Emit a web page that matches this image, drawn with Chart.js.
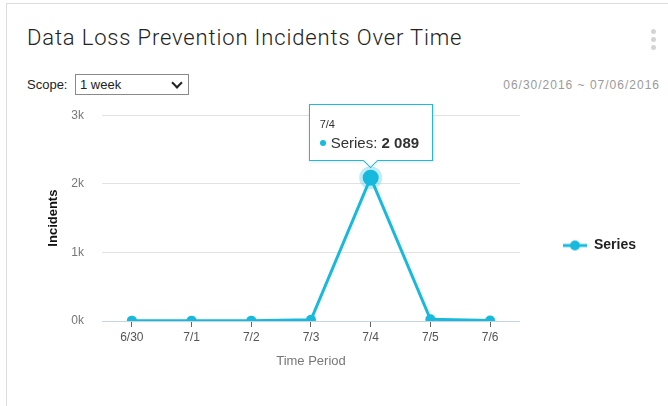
<!DOCTYPE html>
<html>
<head>
<meta charset="utf-8">
<script src="https://cdn.jsdelivr.net/npm/chart.js@4.4.0/dist/chart.umd.min.js"></script>
<style>
    html, body { margin: 0; padding: 0; background: #fff; }
    body { width: 668px; height: 406px; position: relative; overflow: hidden; font-family: "Liberation Sans", Arial, sans-serif; }
    #card { position: absolute; left: 6px; top: 3px; width: 680px; height: 420px; border: 1px solid #dcdcdc; box-sizing: border-box; }
    #title { position: absolute; left: 27px; top: 25px; font-family: Roboto, sans-serif; font-weight: 300; font-size: 22px; letter-spacing: 0.85px; color: #222; white-space: nowrap; }
    .dot { position: absolute; left: 651px; width: 5px; height: 5px; border-radius: 50%; background: #d4d4d4; }
    #scope { position: absolute; left: 27px; top: 77px; font-size: 13px; color: #222; }
    #select { position: absolute; left: 75px; top: 74px; width: 114px; height: 21px; border: 1px solid #8a8a8a; box-sizing: border-box; font-size: 13px; color: #222; line-height: 19px; padding-left: 4px; }
    #chev { position: absolute; right: 7px; top: 4px; width: 6px; height: 6px; border-right: 2px solid #222; border-bottom: 2px solid #222; transform: rotate(45deg); }
    #range { position: absolute; right: 8px; top: 78px; font-size: 12px; letter-spacing: 1px; color: #9a9a9a; }
    #wrap { position: absolute; left: 20px; top: 90px; width: 648px; height: 296px; }
    #tip { position: absolute; background: #fff; border: 1px solid #1fb8de; box-shadow: 0 1px 3px rgba(0,0,0,0.10); padding: 13px 13px 9px 10px; white-space: nowrap; pointer-events: none; }
    #tip .t { font-size: 11px; color: #333; margin-bottom: 4px; }
    #tip .b { font-size: 15px; color: #333; }
    #tip .b i { display: inline-block; width: 6px; height: 6px; border-radius: 50%; background: #17b9dd; vertical-align: middle; margin-right: 5px; position: relative; top: -1px; }
    #tip .b b { font-weight: bold; }
    #tip:after { content: ""; position: absolute; left: 50%; bottom: -6px; margin-left: -6px; width: 10px; height: 10px; background: #fff; border-right: 1px solid #1fb8de; border-bottom: 1px solid #1fb8de; transform: rotate(45deg); }
</style>
</head>
<body>
<div id="card"></div>
<div id="title">Data Loss Prevention Incidents Over Time</div>
<div class="dot" style="top:29px"></div>
<div class="dot" style="top:37px"></div>
<div class="dot" style="top:45px"></div>
<div id="scope">Scope:</div>
<div id="select">1 week<span id="chev"></span></div>
<div id="range">06/30/2016 ~ 07/06/2016</div>
<div id="wrap"><canvas id="chart"></canvas></div>
<div id="tip" style="display:none"></div>

<script>
// Data
const days = ['6/30', '7/1', '7/2', '7/3', '7/4', '7/5', '7/6'];
const incidents = [5, 5, 5, 18, 2089, 25, 6];
const yTicks = [0, 1000, 2000, 3000];
const seriesName = 'Series';
const activeIdx = 4;

const cyan = '#17b9dd';

// legend symbol: line with dot
function legendSymbol() {
    let c = document.createElement('canvas');
    c.width = 24;
    c.height = 12;
    let g = c.getContext('2d');
    g.strokeStyle = cyan;
    g.lineWidth = 3;
    g.beginPath();
    g.moveTo(0, 6);
    g.lineTo(24, 6);
    g.stroke();
    g.fillStyle = cyan;
    g.beginPath();
    g.arc(12, 6, 5, 0, Math.PI * 2);
    g.fill();
    return c;
}

function fmt(v) {
    return String(v).replace(/\B(?=(\d{3})+(?!\d))/g, ' ');
}

function externalTip(context) {
    let tip = document.getElementById('tip');
    let model = context.tooltip;
    if (model.opacity === 0 || !model.dataPoints || !model.dataPoints.length) {
        tip.style.display = 'none';
        return;
    }
    let p = model.dataPoints[0];
    tip.innerHTML = `<div class="t">${p.label}</div><div class="b"><i></i>${p.dataset.label}: <b>${fmt(p.raw)}</b></div>`;
    tip.style.display = 'block';
    let wrap = document.getElementById('wrap');
    let x = wrap.offsetLeft + model.caretX;
    let y = wrap.offsetTop + model.caretY;
    tip.style.left = (x - tip.offsetWidth / 2) + 'px';
    tip.style.top = (y - 17 - tip.offsetHeight) + 'px';
}

Chart.defaults.font.family = '"Liberation Sans", Arial, sans-serif';

let chart = new Chart(document.getElementById('chart').getContext('2d'), {
    type: 'line',
    data: {
        labels: days,
        datasets: [{
            label: seriesName,
            data: incidents,
            borderColor: cyan,
            backgroundColor: cyan,
            borderWidth: 3,
            pointRadius: 5,
            pointBackgroundColor: cyan,
            pointBorderWidth: 0,
            pointHoverRadius: 8,
            pointHoverBorderWidth: 7,
            pointHoverBorderColor: 'rgba(23,185,221,0.28)',
            pointHoverBackgroundColor: cyan,
            tension: 0
        }]
    },
    options: {
        responsive: true,
        maintainAspectRatio: false,
        animation: false,
        events: [],
        layout: { padding: { top: 15, right: 22, left: 0, bottom: 0 } },
        plugins: {
            legend: {
                position: 'right',
                labels: {
                    usePointStyle: true,
                    pointStyle: legendSymbol(),
                    pointStyleWidth: 24,
                    padding: 43,
                    color: '#222',
                    font: { size: 14, weight: 'bold' }
                }
            },
            tooltip: {
                enabled: false,
                external: externalTip
            }
        },
        scales: {
            x: {
                offset: true,
                grid: {
                    drawOnChartArea: false,
                    drawTicks: true,
                    tickLength: 6,
                    tickColor: '#666'
                },
                border: { color: '#c5d5e2', width: 1 },
                ticks: { color: '#555', font: { size: 12 }, padding: 3, maxRotation: 0 },
                title: {
                    display: true,
                    text: 'Time Period',
                    color: '#777',
                    font: { size: 13 },
                    padding: { top: 5, bottom: 17 }
                },
                afterFit: function(scale) { scale.height = 65; }
            },
            y: {
                min: 0,
                max: 3000,
                afterBuildTicks: function(scale) {
                    scale.ticks = yTicks.map(v => ({ value: v }));
                },
                grid: { color: '#e2e2e2', drawTicks: false },
                border: { display: false },
                ticks: {
                    color: '#777',
                    font: { size: 12 },
                    padding: 18,
                    callback: function(v) { return (v / 1000) + 'k'; }
                },
                title: {
                    display: true,
                    text: 'Incidents',
                    color: '#111',
                    font: { size: 13, weight: 'bold' },
                    padding: { top: 26 }
                },
                afterFit: function(scale) { scale.width = 82; }
            }
        }
    }
});

// show the hovered point + tooltip like the reference
chart.setActiveElements([{ datasetIndex: 0, index: activeIdx }]);
chart.tooltip.setActiveElements([{ datasetIndex: 0, index: activeIdx }], { x: 0, y: 0 });
chart.update();
</script>
</body>
</html>
